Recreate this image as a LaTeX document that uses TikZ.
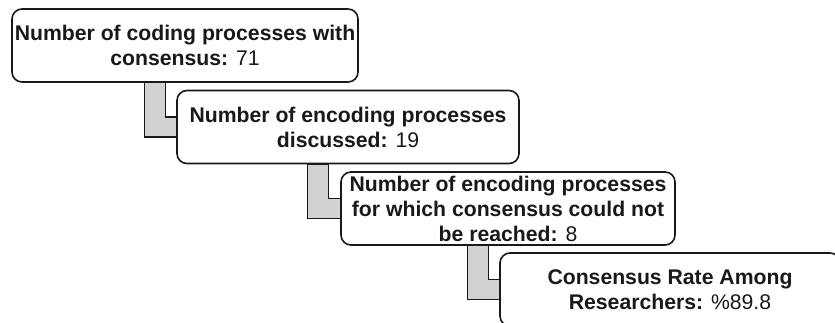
\documentclass[tikz,border=0pt]{standalone}
\usepackage{fontspec}
\setmainfont{Liberation Sans}
\usetikzlibrary{calc,backgrounds}

\tikzset{
  stagebox/.style={draw=black!90, line width=1.6pt, rounded corners=10pt, fill=white,
    align=center, inner xsep=2pt, inner ysep=2pt, minimum height=73pt,
    text=black!90, font=\fontsize{21.2}{25}\selectfont\bfseries},
  elbow/.style={draw=black!90, fill=gray!35, line width=1.3pt, line join=miter},
}

\begin{document}
\begin{tikzpicture}[x=1pt,y=1pt]
  \useasboundingbox (0,0) rectangle (835,-322);

  % stages
  \node[stagebox, minimum width=346pt] (agreed) at (185,-45.5)
    {Number of coding processes with\\consensus: \textmd{71}};
  \node[stagebox, minimum width=342pt] (discussed) at (348,-127)
    {Number of encoding processes\\discussed: \textmd{19}};
  \node[stagebox, minimum width=334pt] (unresolved) at (508,-208.5)
    {Number of encoding processes\\for which consensus could not\\be reached: \textmd{8}};
  \node[stagebox, minimum width=340pt] (rate) at (670,-289.5)
    {Consensus Rate Among\\Researchers: \textmd{\%89.8}};

  % elbow connectors behind the boxes
  \begin{pgfonlayer}{background}
    \foreach \from/\to/\off in {agreed/discussed/133, discussed/unresolved/131, unresolved/rate/127}
      \draw[elbow] ($(\from.south west)+(\off,0)$) |- ($(\to.west)+(0,-10)$)
        -- ($(\to.west)+(0,10)$) -| ($(\from.south west)+(\off+21,0)$) -- cycle;
  \end{pgfonlayer}
\end{tikzpicture}
\end{document}
